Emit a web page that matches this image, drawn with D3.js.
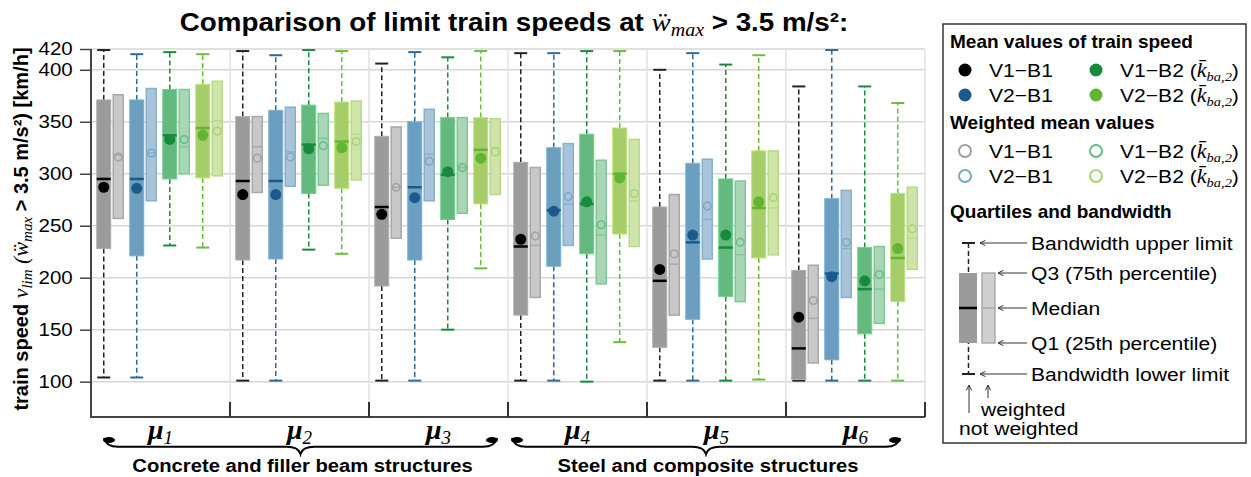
<!DOCTYPE html>
<html>
<head>
<meta charset="utf-8">
<script src="https://cdn.jsdelivr.net/npm/d3@7"></script>
<style>
  body { margin: 0; background: #fff; }
  text { font-family: "Liberation Sans", Arial, sans-serif; fill: #000; }
  .serif { font-family: "Liberation Serif", "DejaVu Serif", serif; font-style: italic; }
</style>
</head>
<body>
<svg id="chart" width="1251" height="477"></svg>
<script>
// groups (mu_1 .. mu_6) and series
const groups = ['1', '2', '3', '4', '5', '6'];
const series = ['V1−B1', 'V2−B1', 'V1−B2', 'V2−B2'];
const yTicks = [100, 150, 200, 250, 300, 350, 400, 420];

// not weighted, rows = series, cols = groups
const upperLimit = [
  [419, 418, 406, 416, 400, 384],
  [415, 414, 417, 416, 416, 419],
  [417, 419, 412, 418, 405, 384],
  [415, 418, 418, 418, 414, 368]
];
const q3 = [
  [371, 355, 336, 311, 268, 207],
  [371, 361, 350, 325, 310, 276],
  [381, 366, 354, 338, 295, 229],
  [386, 369, 354, 344, 322, 281]
];
const median = [
  [295, 293, 268, 230, 197, 132],
  [295, 293, 287, 265, 234, 204],
  [337, 328, 299, 271, 229, 189],
  [344, 331, 323, 300, 267, 219]
];
const q1 = [
  [228, 217, 192, 164, 133, 102],
  [221, 218, 217, 211, 160, 121],
  [295, 281, 256, 223, 182, 146],
  [296, 286, 271, 242, 219, 177]
];
const lowerLimit = [
  [104, 101, 101, 101, 101, 101],
  [104, 101, 101, 101, 101, 101],
  [231, 227, 150, 100, 101, 101],
  [229, 223, 209, 138, 102, 101]
];
const mean = [
  [287, 280, 261, 237, 208, 162],
  [286, 280, 277, 264, 241, 201],
  [333, 324, 302, 273, 241, 197],
  [337, 325, 315, 296, 273, 228]
];

// weighted
const wQ3 = [
  [376, 355, 345, 306, 280, 212],
  [382, 364, 362, 329, 314, 284],
  [381, 358, 354, 313, 293, 230],
  [389, 370, 353, 333, 322, 287]
];
const wMedian = [
  [318, 326, 287, 231, 213, 161],
  [320, 321, 319, 271, 256, 228],
  [326, 334, 306, 241, 222, 189],
  [351, 338, 325, 274, 267, 238]
];
const wQ1 = [
  [257, 282, 238, 181, 164, 118],
  [274, 288, 274, 231, 218, 181],
  [300, 289, 262, 194, 177, 156],
  [298, 294, 280, 230, 222, 208]
];
const wMean = [
  [316, 315, 287, 240, 223, 178],
  [320, 316, 312, 278, 269, 234],
  [333, 327, 306, 251, 234, 203],
  [341, 331, 321, 281, 277, 247]
];

const boxFill = ['#9b9b9b', '#6b9ebf', '#64b97e', '#a7cd6a'];
const darkCol = ['#000000', '#1b5a8c', '#178a3e', '#62b530'];
const whiskCol = ['#222222', '#2a6b9c', '#1b8a3f', '#6dbd3a'];
const wFill = ['#c8c8c8', '#a9c4d9', '#a9d7b6', '#cfe4a9'];
const wStroke = ['#a8a8a8', '#88b0cd', '#80c697', '#b7d98b'];
const openCol = ['#a0a0a0', '#78a7c8', '#66bd82', '#a8d273'];

const svg = d3.select('#chart');

// the original lettering is a bit wider than Liberation Sans
function stretch(t, sx) {
  const x0 = +t.attr('x'), y0 = +t.attr('y');
  t.attr('x', 0).attr('y', 0).attr('transform', `translate(${x0},${y0}) scale(${sx},1)`);
  return t;
}

const x = d3.scaleBand().domain(groups).range([91, 925]);
const xs = d3.scaleBand().domain(d3.range(series.length)).range([0, x.bandwidth()]).paddingOuter(0.106);
const y = d3.scaleLinear().domain([66, 420]).range([417, 49]);

// grid
svg.append('g').selectAll('line').data(yTicks).enter().append('line')
  .attr('x1', 91).attr('x2', 925)
  .attr('y1', d => y(d)).attr('y2', d => y(d))
  .attr('stroke', '#d6d6d6').attr('stroke-width', 1.5);

const bounds = groups.slice(1).map(g => x(g)).concat([x.range()[1]]);
svg.append('g').selectAll('line').data(bounds).enter().append('line')
  .attr('x1', d => d).attr('x2', d => d)
  .attr('y1', y(420)).attr('y2', 417)
  .attr('stroke', '#e2e2e2').attr('stroke-width', 1.5);

// y axis
const yAxis = svg.append('g').attr('transform', 'translate(91,0)')
  .call(d3.axisLeft(y).tickValues(yTicks).tickSize(11).tickPadding(5));
yAxis.select('.domain').attr('stroke', '#444').attr('stroke-width', 2).attr('d', 'M0,' + y(420) + 'V417');
yAxis.selectAll('.tick line').attr('stroke', '#444').attr('stroke-width', 1.5);
yAxis.selectAll('.tick text')
  .style('font-size', '18px').style('font-family', '"Liberation Sans", Arial, sans-serif')
  .attr('fill', '#000').attr('transform', 'scale(1.14,1)');

// x axis line + boundary ticks
svg.append('line').attr('x1', 90).attr('x2', 925).attr('y1', 417).attr('y2', 417)
  .attr('stroke', '#444').attr('stroke-width', 2);
svg.append('g').selectAll('line').data(bounds).enter().append('line')
  .attr('x1', d => d).attr('x2', d => d).attr('y1', 402).attr('y2', 417)
  .attr('stroke', '#333').attr('stroke-width', 2);

// group labels
const gl = svg.append('g').selectAll('text').data(groups).enter().append('text')
  .attr('class', 'serif')
  .attr('x', d => x(d) + x.bandwidth() / 2)
  .attr('y', 439)
  .attr('text-anchor', 'middle')
  .attr('font-size', 28).attr('font-weight', 'bold');
gl.append('tspan').text('μ');
gl.append('tspan').attr('font-size', 19).attr('font-weight', 'normal').attr('dy', 5).text(d => d);

// boxes
series.forEach((s, i) => {
  const g = svg.append('g');
  groups.forEach((grp, j) => {
    const cx = x(grp) + xs(i) + xs.bandwidth() / 2;
    const ux = cx - 7.25, wx = cx + 7.25;
    // whiskers
    [[q3[i][j], upperLimit[i][j]], [q1[i][j], lowerLimit[i][j]]].forEach(([a, b]) => {
      g.append('line').attr('x1', ux).attr('x2', ux).attr('y1', y(a)).attr('y2', y(b))
        .attr('stroke', whiskCol[i]).attr('stroke-width', 1.5).attr('stroke-dasharray', '5,3');
      g.append('line').attr('x1', ux - 6.5).attr('x2', ux + 6.5).attr('y1', y(b)).attr('y2', y(b))
        .attr('stroke', whiskCol[i]).attr('stroke-width', 2);
    });
    g.append('rect').attr('x', ux - 7).attr('width', 14)
      .attr('y', y(q3[i][j])).attr('height', y(q1[i][j]) - y(q3[i][j]))
      .attr('fill', boxFill[i]).attr('stroke', d3.color(boxFill[i]).brighter(0.3)).attr('stroke-width', 1);
    g.append('line').attr('x1', ux - 7).attr('x2', ux + 7)
      .attr('y1', y(median[i][j])).attr('y2', y(median[i][j]))
      .attr('stroke', darkCol[i]).attr('stroke-width', 2.5);
    g.append('circle').attr('cx', ux).attr('cy', y(mean[i][j])).attr('r', 5.5).attr('fill', darkCol[i]);
    // weighted
    g.append('rect').attr('x', wx - 5).attr('width', 10)
      .attr('y', y(wQ3[i][j])).attr('height', y(wQ1[i][j]) - y(wQ3[i][j]))
      .attr('fill', wFill[i]).attr('stroke', wStroke[i]).attr('stroke-width', 1.5);
    g.append('line').attr('x1', wx - 5).attr('x2', wx + 5)
      .attr('y1', y(wMedian[i][j])).attr('y2', y(wMedian[i][j]))
      .attr('stroke', wStroke[i]).attr('stroke-width', 1.5);
    g.append('circle').attr('cx', wx).attr('cy', y(wMean[i][j])).attr('r', 3.8)
      .attr('fill', 'none').attr('stroke', openCol[i]).attr('stroke-width', 1.5);
  });
});

// title
const title = svg.append('text').attr('x', 514).attr('y', 31).attr('text-anchor', 'middle')
  .attr('font-size', 25).attr('font-weight', 'bold');
title.append('tspan').text('Comparison of limit train speeds at ');
title.append('tspan').attr('class', 'serif').attr('font-weight', 'normal').attr('font-size', 26).text('ẅ');
title.append('tspan').attr('class', 'serif').attr('font-weight', 'normal').attr('font-size', 18).attr('dy', 5).text('max');
title.append('tspan').attr('dy', -5).text(' > 3.5 m/s²:');
stretch(title, 1.11);

// y label
const yl = svg.append('text').attr('transform', 'translate(28,229) rotate(-90)')
  .attr('text-anchor', 'middle').attr('font-size', 20).attr('font-weight', 'bold');
yl.append('tspan').text('train speed ');
yl.append('tspan').attr('class', 'serif').attr('font-weight', 'normal').attr('font-size', 22).text('v');
yl.append('tspan').attr('class', 'serif').attr('font-weight', 'normal').attr('font-size', 15).attr('dy', 4).text('lim');
yl.append('tspan').attr('class', 'serif').attr('font-weight', 'normal').attr('font-size', 22).attr('dy', -4).text(' (ẅ');
yl.append('tspan').attr('class', 'serif').attr('font-weight', 'normal').attr('font-size', 15).attr('dy', 4).text('max');
yl.append('tspan').attr('dy', -4).text(' > 3.5 m/s²) [km/h]');

// braces
function brace(x1, x2, y0, h) {
  const xm = (x1 + x2) / 2, r = 14, ym = y0 + h * 0.55;
  return `M${x1},${y0} Q${x1 + 2},${ym} ${x1 + r},${ym} L${xm - r},${ym} Q${xm - 2},${ym} ${xm},${y0 + h}` +
    ` Q${xm + 2},${ym} ${xm + r},${ym} L${x2 - r},${ym} Q${x2 - 2},${ym} ${x2},${y0}`;
}
const braces = [
  { x1: 104, x2: 497, label: 'Concrete and filler beam structures' },
  { x1: 512, x2: 900, label: 'Steel and composite structures' }
];
braces.forEach(b => {
  svg.append('path').attr('d', brace(b.x1, b.x2, 438, 16))
    .attr('fill', 'none').attr('stroke', '#000').attr('stroke-width', 2);
  [b.x1, b.x2].forEach(px => svg.append('ellipse').attr('cx', px + (px === b.x1 ? 5 : -5)).attr('cy', 440)
    .attr('rx', 6).attr('ry', 3).attr('fill', '#000'));
  stretch(svg.append('text').attr('x', (b.x1 + b.x2) / 2 + 2).attr('y', 472).attr('text-anchor', 'middle')
    .attr('font-size', 19).attr('font-weight', 'bold').text(b.label), 1.065);
});

// legend
const lg = svg.append('g');
lg.append('rect').attr('x', 943).attr('y', 24).attr('width', 303).attr('height', 419)
  .attr('fill', '#fff').attr('stroke', '#333').attr('stroke-width', 1.5);
const head = (t, yy) => lg.append('text').attr('x', 950).attr('y', yy).attr('font-size', 19)
  .attr('font-weight', 'bold').text(t);
head('Mean values of train speed', 48);
head('Weighted mean values', 129);
head('Quartiles and bandwidth', 218);

const SX = 1.11;
function entryLabel(txt, xx, yy, withK) {
  const t = lg.append('text').attr('x', xx).attr('y', yy + 7).attr('font-size', 19).text(txt);
  if (withK) {
    t.append('tspan').text(' (');
    t.append('tspan').attr('class', 'serif').attr('font-size', 20).text('k\u0304');
    t.append('tspan').attr('class', 'serif').attr('font-size', 13).attr('dy', 4).text('ba,2');
    t.append('tspan').attr('dy', -4).text(')');
  }
  stretch(t, SX);
}
const legCols = [965, 1096];
const legRows = [[70, 95], [151, 176]];
series.forEach((s, i) => {
  const col = i < 2 ? 0 : 1, row = i % 2;
  lg.append('circle').attr('cx', legCols[col]).attr('cy', legRows[0][row]).attr('r', 6.5).attr('fill', darkCol[i]);
  entryLabel(s, legCols[col] + 24, legRows[0][row], col === 1);
  lg.append('circle').attr('cx', legCols[col]).attr('cy', legRows[1][row]).attr('r', 6)
    .attr('fill', 'none').attr('stroke', openCol[i]).attr('stroke-width', 2);
  entryLabel(s, legCols[col] + 24, legRows[1][row], col === 1);
});

// quartile diagram
const qx = 968.5;
lg.append('line').attr('x1', qx).attr('x2', qx).attr('y1', 243).attr('y2', 374)
  .attr('stroke', '#222').attr('stroke-width', 1.5).attr('stroke-dasharray', '5,3');
[243, 374].forEach(yy => lg.append('line').attr('x1', qx - 6.5).attr('x2', qx + 6.5).attr('y1', yy).attr('y2', yy)
  .attr('stroke', '#222').attr('stroke-width', 2));
lg.append('rect').attr('x', 959).attr('y', 273).attr('width', 18).attr('height', 70).attr('fill', '#9b9b9b');
lg.append('line').attr('x1', 959).attr('x2', 977).attr('y1', 308).attr('y2', 308).attr('stroke', '#000').attr('stroke-width', 2.5);
lg.append('rect').attr('x', 982).attr('y', 273).attr('width', 13).attr('height', 70)
  .attr('fill', '#cfcfcf').attr('stroke', '#aaa').attr('stroke-width', 1.5);
lg.append('line').attr('x1', 982).attr('x2', 995).attr('y1', 308).attr('y2', 308).attr('stroke', '#aaa').attr('stroke-width', 1.5);

function arrow(x1, y1, x2, y2) {
  lg.append('line').attr('x1', x1).attr('y1', y1).attr('x2', x2).attr('y2', y2)
    .attr('stroke', '#333').attr('stroke-width', 1);
  const a = Math.atan2(y2 - y1, x2 - x1), L = 6, w = 0.45;
  lg.append('path')
    .attr('d', `M${x2 - L * Math.cos(a - w)},${y2 - L * Math.sin(a - w)} L${x2},${y2} L${x2 - L * Math.cos(a + w)},${y2 - L * Math.sin(a + w)}`)
    .attr('fill', 'none').attr('stroke', '#333').attr('stroke-width', 1);
}
const notes = [
  { y: 243, tip: 980, t: 'Bandwidth upper limit' },
  { y: 273, tip: 998, t: 'Q3 (75th percentile)' },
  { y: 308, tip: 998, t: 'Median' },
  { y: 343, tip: 998, t: 'Q1 (25th percentile)' },
  { y: 374, tip: 980, t: 'Bandwidth lower limit' }
];
notes.forEach(n => {
  arrow(1027, n.y, n.tip, n.y);
  stretch(lg.append('text').attr('x', 1031).attr('y', n.y + 7).attr('font-size', 19).text(n.t), SX);
});
arrow(969, 413, 969, 385);
arrow(988, 398, 988, 385);
stretch(lg.append('text').attr('x', 981).attr('y', 416).attr('font-size', 19).text('weighted'), SX);
stretch(lg.append('text').attr('x', 959).attr('y', 435).attr('font-size', 19).text('not weighted'), SX);
</script>
</body>
</html>
